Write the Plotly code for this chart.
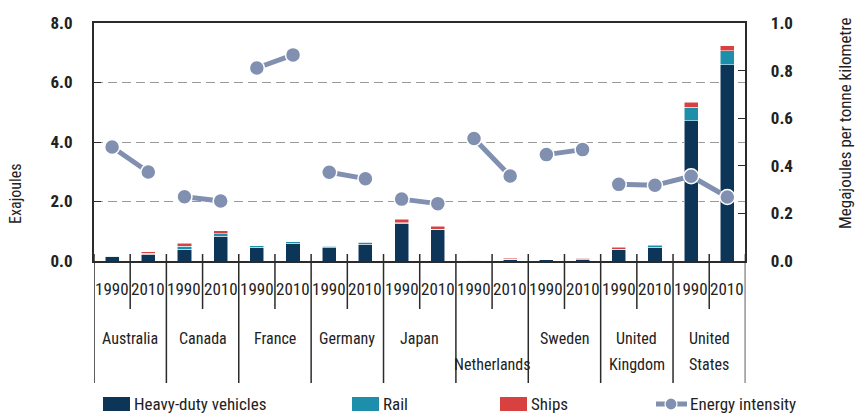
import plotly.graph_objects as go
from plotly.subplots import make_subplots

# Freight transport energy use by mode, and energy intensity, 1990 vs 2010
countries = ["Australia", "Canada", "France", "Germany", "Japan",
             "Netherlands", "Sweden", "United Kingdom", "United States"]
# label lines under each country pair; "" leaves the first row empty
country_label_lines = [["Australia"], ["Canada"], ["France"], ["Germany"], ["Japan"],
                       ["", "Netherlands"], ["Sweden"], ["United", "Kingdom"],
                       ["United", "States"]]
years = ["1990", "2010"]

# Exajoules, one value per country-year (1990, 2010 for each country)
heavy_duty = [0.14, 0.23, 0.40, 0.84, 0.47, 0.60, 0.44, 0.57, 1.27, 1.06,
              0.02, 0.06, 0.04, 0.06, 0.37, 0.47, 4.71, 6.59]
rail = [0.02, 0.03, 0.10, 0.08, 0.04, 0.04, 0.06, 0.06, 0.01, 0.01,
        0.00, 0.00, 0.01, 0.01, 0.02, 0.04, 0.45, 0.48]
ships = [0.02, 0.05, 0.10, 0.10, 0.01, 0.01, 0.02, 0.02, 0.12, 0.10,
         0.03, 0.04, 0.00, 0.02, 0.07, 0.03, 0.17, 0.16]

# Megajoules per tonne kilometre
energy_intensity = [0.479, 0.374, 0.270, 0.252, 0.811, 0.866, 0.373, 0.346,
                    0.260, 0.241, 0.515, 0.357, 0.447, 0.468, 0.322, 0.318,
                    0.356, 0.269]
# points sharing a group id are joined by the line
line_groups = [0, 0, 1, 1, 2, 2, 3, 3, 4, 4, 5, 5, 6, 6, 7, 7, 7, 7]

FONT = "Roboto Condensed, DejaVu Sans Condensed, sans-serif"
C_HDV = "#0d3558"
C_RAIL = "#1e8fab"
C_SHIPS = "#d94040"
C_EI = "#8190b0"
AXIS = "#2b2b2b"
TXT = "#222222"

n = len(countries) * len(years)
pos = list(range(n))

fig = make_subplots(specs=[[{"secondary_y": True}]])

for name, vals, col in [("Heavy-duty vehicles", heavy_duty, C_HDV),
                        ("Rail", rail, C_RAIL),
                        ("Ships", ships, C_SHIPS)]:
    fig.add_trace(go.Bar(x=pos, y=vals, name=name, width=0.39,
                         marker=dict(color=col,
                                     line=dict(color="rgba(255,255,255,0.65)", width=0.8)),
                         showlegend=False),
                  secondary_y=False)

# energy-intensity line, broken between groups
lx, ly = [], []
for i in pos:
    if i > 0 and line_groups[i] != line_groups[i - 1]:
        lx.append(None)
        ly.append(None)
    lx.append(i)
    ly.append(energy_intensity[i])
fig.add_trace(go.Scatter(x=lx, y=ly, mode="lines", line=dict(color=C_EI, width=5),
                         showlegend=False, hoverinfo="skip"), secondary_y=True)
fig.add_trace(go.Scatter(x=pos, y=energy_intensity, mode="markers", name="Energy intensity",
                         marker=dict(color=C_EI, size=15, line=dict(color="white", width=1.5)),
                         showlegend=False), secondary_y=True)

# plot area geometry in pixels (for paper-coordinate layout items)
L, R, T, B = 94, 76, 23, 154
W, H = 863, 415
pw, ph = W - L - R, H - T - B


def py(y_px):
    return (H - B - y_px) / ph


def px(x_px):
    return (x_px - L) / pw


shapes = []
# year and country separators under the axis
for k in range(n + 1):
    is_country = k % 2 == 0
    shapes.append(dict(type="line", xref="x", yref="paper",
                       x0=k - 0.5, x1=k - 0.5, y0=py(254),
                       y1=py(383) if is_country else py(309),
                       line=dict(color=AXIS, width=1.5)))

annotations = []
for i in pos:
    annotations.append(dict(x=i, y=py(289), xref="x", yref="paper", text=years[i % 2],
                            showarrow=False, yanchor="middle",
                            font=dict(family=FONT, size=17, color=TXT)))
row_centres = [338, 364]
for c, lines in enumerate(country_label_lines):
    for r, text in enumerate(lines):
        if not text:
            continue
        annotations.append(dict(x=2 * c + 0.5, y=py(row_centres[r]), xref="x", yref="paper",
                                text=text, showarrow=False, yanchor="middle",
                                font=dict(family=FONT, size=16, color=TXT)))

# axis titles
annotations.append(dict(x=px(15), y=py(194), xref="paper", yref="paper", text="Exajoules",
                        textangle=-90, showarrow=False, xanchor="center", yanchor="middle",
                        font=dict(family=FONT, size=16, color=TXT)))
annotations.append(dict(x=px(845), y=py(123), xref="paper", yref="paper",
                        text="Megajoules per tonne kilometre",
                        textangle=-90, showarrow=False, xanchor="center", yanchor="middle",
                        font=dict(family=FONT, size=17, color=TXT)))

# legend
legend_items = [("Heavy-duty vehicles", C_HDV, 103), ("Rail", C_RAIL, 352),
                ("Ships", C_SHIPS, 500)]
for label, col, x0 in legend_items:
    shapes.append(dict(type="rect", xref="paper", yref="paper",
                       x0=px(x0), x1=px(x0 + 27), y0=py(411), y1=py(397),
                       fillcolor=col, line=dict(width=0)))
    annotations.append(dict(x=px(x0 + 29), y=py(404), xref="paper", yref="paper",
                            text=label, showarrow=False, xanchor="left", yanchor="middle",
                            font=dict(family=FONT, size=17, color=TXT)))
shapes.append(dict(type="line", xref="paper", yref="paper", x0=px(656), x1=px(687),
                   y0=py(404), y1=py(404), line=dict(color=C_EI, width=5)))
shapes.append(dict(type="circle", xref="paper", yref="paper", x0=px(665), x1=px(677),
                   y0=py(410), y1=py(398), fillcolor=C_EI, line=dict(color="white", width=1.2)))
annotations.append(dict(x=px(688), y=py(404), xref="paper", yref="paper",
                        text="Energy intensity", showarrow=False, xanchor="left",
                        yanchor="middle", font=dict(family=FONT, size=17, color=TXT)))

fig.update_layout(
    width=W, height=H,
    margin=dict(l=L, r=R, t=T, b=B),
    paper_bgcolor="white", plot_bgcolor="white",
    barmode="stack",
    showlegend=False,
    font=dict(family=FONT, size=17, color=TXT),
    shapes=shapes, annotations=annotations,
)
fig.update_xaxes(range=[-0.5, n - 0.5], showticklabels=False, ticks="",
                 showline=True, linecolor=AXIS, linewidth=2, mirror=True,
                 showgrid=False, zeroline=False)
fig.update_yaxes(range=[0, 8], dtick=2, tickformat=".1f", showline=True,
                 linecolor=AXIS, linewidth=2, ticks="inside", ticklen=7,
                 tickcolor=AXIS, showgrid=True, gridcolor="#9a9a9a", gridwidth=1.3,
                 griddash="9px,5px", zeroline=False, ticklabelstandoff=16,
                 tickfont=dict(family=FONT, size=17, color=TXT, weight="bold"),
                 secondary_y=False)
fig.update_yaxes(range=[0, 1], dtick=0.2, tickformat=".1f", showline=True,
                 linecolor=AXIS, linewidth=2, ticks="inside", ticklen=7,
                 tickcolor=AXIS, showgrid=False, zeroline=False, ticklabelstandoff=20,
                 tickfont=dict(family=FONT, size=17, color=TXT, weight="bold"),
                 secondary_y=True)

fig.write_html("out.html")
